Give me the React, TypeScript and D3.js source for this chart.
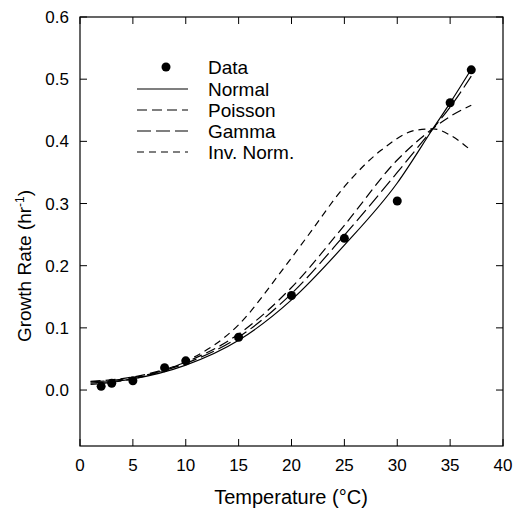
import React from "react";
import * as d3 from "d3";

const dataX = [2, 3, 5, 8, 10, 15, 20, 25, 30, 35, 37];
const dataY = [0.006, 0.011, 0.015, 0.036, 0.047, 0.085, 0.152, 0.244, 0.304, 0.462, 0.515];

const normalX = [1, 5, 10, 15, 20, 25, 30, 33.4, 35, 37];
const normalY = [0.011, 0.018, 0.040, 0.080, 0.145, 0.233, 0.333, 0.421, 0.462, 0.516];

const gammaX = [1, 5, 10, 15, 20, 25, 30, 33.4, 35, 37];
const gammaY = [0.013, 0.020, 0.043, 0.085, 0.155, 0.249, 0.350, 0.421, 0.455, 0.505];

const poissonX = [1, 5, 10, 15, 20, 25, 30, 33.4, 35, 37];
const poissonY = [0.014, 0.021, 0.045, 0.090, 0.165, 0.265, 0.370, 0.421, 0.440, 0.458];

const invNormX = [1, 5, 10, 15, 19, 21.5, 25, 28.5, 31.8, 33.4, 35, 36.8];
const invNormY = [0.009, 0.018, 0.046, 0.105, 0.190, 0.247, 0.327, 0.386, 0.418, 0.420, 0.410, 0.388];

const xTicks = [0, 5, 10, 15, 20, 25, 30, 35, 40];
const yTicks = [0.0, 0.1, 0.2, 0.3, 0.4, 0.5, 0.6];

const legendLabels = ["Data", "Normal", "Poisson", "Gamma", "Inv. Norm."];

export default function App() {
  const W = 513, H = 512;
  const left = 80, right = 503, top = 17, bottom = 446;
  const x = d3.scaleLinear().domain([0, 40]).range([left, right]);
  const y = d3.scaleLinear().domain([-0.09, 0.6]).range([bottom, top]);
  const line = d3.line<[number, number]>().x(d => x(d[0])).y(d => y(d[1])).curve(d3.curveMonotoneX);
  const mk = (xs: number[], ys: number[]) => xs.map((v, i) => [v, ys[i]] as [number, number]);

  const series = [
    { name: "Normal", xs: normalX, ys: normalY, dash: "none" },
    { name: "Poisson", xs: poissonX, ys: poissonY, dash: "10,5" },
    { name: "Gamma", xs: gammaX, ys: gammaY, dash: "14,5" },
    { name: "Inv. Norm.", xs: invNormX, ys: invNormY, dash: "7,5" },
  ];
  const font = "Liberation Sans, Arial, sans-serif";
  const tl = 7;
  const legendY = [72, 94, 115, 136, 157];

  return (
    <svg width={W} height={H} style={{ position: "absolute", left: 0, top: 0 }} fontFamily={font}>
      <rect x={0} y={0} width={W} height={H} fill="white" />
      <rect x={left} y={top} width={right - left} height={bottom - top} fill="none" stroke="black" strokeWidth={1.2} />
      {xTicks.map(t => (
        <g key={"x" + t}>
          <line x1={x(t)} x2={x(t)} y1={bottom} y2={bottom - tl} stroke="black" />
          <line x1={x(t)} x2={x(t)} y1={top} y2={top + tl} stroke="black" />
          <text x={x(t)} y={471} fontSize={17} textAnchor="middle">{t}</text>
        </g>
      ))}
      {yTicks.map(t => (
        <g key={"y" + t}>
          <line x1={left} x2={left + tl} y1={y(t)} y2={y(t)} stroke="black" />
          <line x1={right} x2={right - tl} y1={y(t)} y2={y(t)} stroke="black" />
          <text x={69} y={y(t) + 6} fontSize={17} textAnchor="end">{t.toFixed(1)}</text>
        </g>
      ))}
      <text x={291} y={504} fontSize={20} textAnchor="middle">Temperature (°C)</text>
      <text transform={`translate(31,${266}) rotate(-90)`} fontSize={19} textAnchor="middle">
        Growth Rate (hr<tspan dy={-7} fontSize={12}>-1</tspan><tspan dy={7}>)</tspan>
      </text>
      {series.map(s => (
        <path key={s.name} d={line(mk(s.xs, s.ys)) || ""} fill="none" stroke="black" strokeWidth={1.2} strokeDasharray={s.dash} />
      ))}
      {dataX.map((v, i) => (
        <circle key={"d" + i} cx={x(v)} cy={y(dataY[i])} r={4.5} fill="black" />
      ))}
      <circle cx={166} cy={legendY[0] - 5} r={4.5} fill="black" />
      {series.map((s, i) => (
        <line key={"l" + s.name} x1={137} x2={188} y1={legendY[i + 1] - 5} y2={legendY[i + 1] - 5} stroke="black" strokeWidth={1.2} strokeDasharray={s.dash} />
      ))}
      {legendLabels.map((l, i) => (
        <text key={"t" + l} x={208} y={legendY[i] + 2} fontSize={19}>{l}</text>
      ))}
    </svg>
  );
}
